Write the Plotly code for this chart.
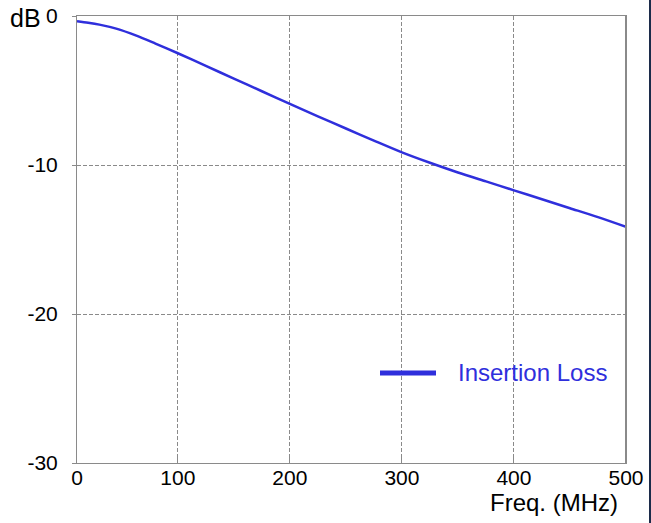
import plotly.graph_objects as go

freq_mhz = [10, 20, 30, 45, 63, 80, 100, 125, 150, 175, 200, 225, 250, 275,
            300, 325, 350, 375, 400, 425, 450, 475, 500]
insertion_loss_db = [-0.35, -0.45, -0.58, -0.85, -1.32, -1.85, -2.5, -3.35, -4.2,
                     -5.05, -5.9, -6.73, -7.55, -8.36, -9.15, -9.85, -10.5, -11.1,
                     -11.7, -12.3, -12.9, -13.5, -14.15]
x_tickvals = [10, 100, 200, 300, 400, 500]
x_ticktext = ["0", "100", "200", "300", "400", "500"]
y_tickvals = [0, -10, -20, -30]
y_ticktext = ["0", "-10", "-20", "-30"]
series_name = "Insertion Loss"

W, H = 651, 523
L, R, T, B = 77, 25, 16, 60
PW, PH = W - L - R, H - T - B


def px(x):
    return (x - L) / PW


def py(y):
    return 1 - (y - T) / PH


BLUE = "#2f2fdc"
GREY = "#8a8a8a"
FONT = "Liberation Sans, Arial, sans-serif"

fig = go.Figure()
fig.add_trace(go.Scatter(x=freq_mhz, y=insertion_loss_db, mode="lines",
                         line=dict(color=BLUE, width=2.5, shape="spline", smoothing=0.8),
                         name=series_name, showlegend=False))

fig.update_layout(
    width=W, height=H, autosize=False,
    margin=dict(l=L, r=R, t=T, b=B, pad=0, autoexpand=False),
    paper_bgcolor="white", plot_bgcolor="white",
    font=dict(family=FONT, size=20, color="black"),
    xaxis=dict(range=[10, 500], tickvals=x_tickvals, ticktext=x_ticktext,
               showgrid=True, gridcolor=GREY, griddash="4px,2px", gridwidth=1,
               showline=True, linecolor=GREY, linewidth=1, mirror=True,
               ticks="inside", ticklen=5, tickcolor=GREY,
               ticklabelstandoff=-4, automargin=False,
               zeroline=False, tickfont=dict(size=21)),
    yaxis=dict(range=[-30, 0], tickvals=y_tickvals, ticktext=y_ticktext,
               showgrid=True, gridcolor=GREY, griddash="4px,2px", gridwidth=1,
               showline=True, linecolor=GREY, linewidth=1, mirror=True,
               ticks="outside", ticklen=4, tickcolor=GREY,
               ticklabelstandoff=10, automargin=False,
               zeroline=False, tickfont=dict(size=21)),
)

# right edge thicker frame line
fig.add_shape(type="line", xref="paper", yref="paper",
              x0=px(626), x1=px(626), y0=0, y1=1,
              line=dict(color=GREY, width=2))
# dark border at far right
fig.add_shape(type="line", xref="paper", yref="paper",
              x0=px(650), x1=px(650), y0=py(0), y1=py(523),
              line=dict(color="#1c2b4a", width=2))

# legend
fig.add_shape(type="line", xref="paper", yref="paper",
              x0=px(380), x1=px(436), y0=py(373), y1=py(373),
              line=dict(color=BLUE, width=5))
fig.add_annotation(xref="paper", yref="paper", x=px(456), y=py(372),
                   xanchor="left", yanchor="middle", showarrow=False,
                   text=series_name, font=dict(size=24, color=BLUE, family=FONT))

# axis titles
fig.add_annotation(xref="paper", yref="paper", x=px(8), y=py(18),
                   xanchor="left", yanchor="middle", showarrow=False,
                   text="dB", font=dict(size=25, color="black", family=FONT))
fig.add_annotation(xref="paper", yref="paper", x=px(620), y=py(502),
                   xanchor="right", yanchor="middle", showarrow=False,
                   text="Freq. (MHz)", font=dict(size=24, color="black", family=FONT))

fig.write_html("out.html")
